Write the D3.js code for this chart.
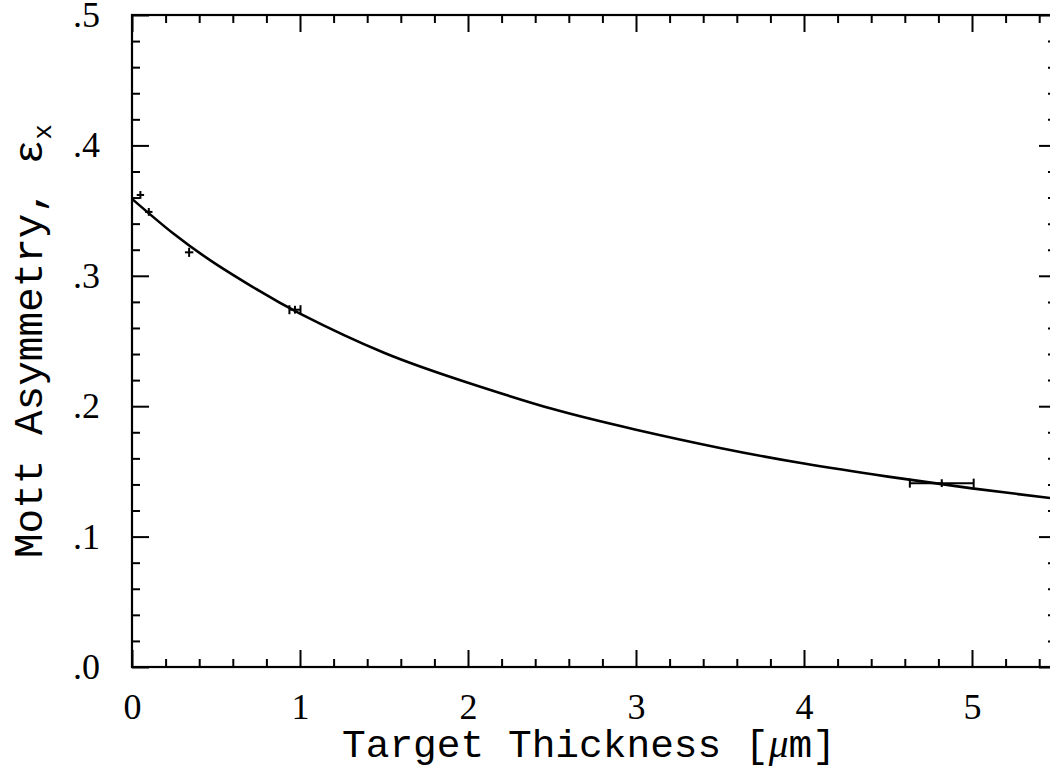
<!DOCTYPE html>
<html>
<head>
<meta charset="utf-8">
<script src="https://cdn.jsdelivr.net/npm/d3@7"></script>
<style>
  html, body { margin: 0; padding: 0; background: #fff; }
  svg { display: block; }
</style>
</head>
<body>
<svg id="chart" width="1050" height="771"></svg>
<script>
// ---- data ----
const xMajorTicks = [0, 1, 2, 3, 4, 5];
const xTickLabels = ["0", "1", "2", "3", "4", "5"];
const xMinorTicks = [0.2,0.4,0.6,0.8,1.2,1.4,1.6,1.8,2.2,2.4,2.6,2.8,3.2,3.4,3.6,3.8,4.2,4.4,4.6,4.8,5.2,5.4];
const yMajorTicks = [0, 0.1, 0.2, 0.3, 0.4, 0.5];
const yTickLabels = [".0", ".1", ".2", ".3", ".4", ".5"];
const yMinorTicks = [0.02,0.04,0.06,0.08,0.12,0.14,0.16,0.18,0.22,0.24,0.26,0.28,0.32,0.34,0.36,0.38,0.42,0.44,0.46,0.48];

// measured points
const pointX    = [0.05, 0.10, 0.34, 0.97, 4.82];
const pointY    = [0.362, 0.349, 0.318, 0.274, 0.141];
const pointXErr = [0.022, 0.022, 0.025, 0.033, 0.19];
const pointYErr = [0.003, 0.003, 0.0035, 0.003, 0.003];

// fitted curve
const fitX = [0, 0.25, 0.5, 0.75, 1.0, 1.5, 2.0, 2.5, 3.0, 3.5, 4.0, 4.5, 5.0, 5.5];
const fitY = [0.359, 0.332, 0.309, 0.289, 0.271, 0.241, 0.218, 0.198, 0.182, 0.168, 0.156, 0.146, 0.137, 0.129];

const xTitle = "Target Thickness [";
const yTitle = "Mott Asymmetry, ε";

// ---- layout ----
const L = 132, R = 1056, T = 15, B = 667;
const svg = d3.select("#chart");
const x = d3.scaleLinear().domain([0, 5.5]).range([L, R]);
const y = d3.scaleLinear().domain([0, 0.5]).range([B, T]);

const ink = "#000";
const MAJ = 17, MIN = 8;
const tickFont = "Liberation Serif, DejaVu Serif, serif";

function styleAxis(g) {
  g.select(".domain").remove();
  g.selectAll(".tick line").attr("stroke", ink).attr("stroke-width", 2);
}

// bottom
svg.append("g").attr("transform", `translate(0,${B})`)
  .call(d3.axisBottom(x).tickValues(xMajorTicks).tickSize(-MAJ).tickSizeOuter(0).tickPadding(26)
        .tickFormat((d, i) => xTickLabels[i]))
  .call(styleAxis)
  .call(g => g.selectAll("text").attr("font-family", tickFont)
        .attr("font-size", 36).attr("fill", ink));
svg.append("g").attr("transform", `translate(0,${B})`)
  .call(d3.axisBottom(x).tickValues(xMinorTicks).tickSize(-MIN).tickSizeOuter(0).tickFormat(""))
  .call(styleAxis);
// top
svg.append("g").attr("transform", `translate(0,${T})`)
  .call(d3.axisTop(x).tickValues(xMajorTicks).tickSize(-MAJ).tickSizeOuter(0).tickFormat(""))
  .call(styleAxis);
svg.append("g").attr("transform", `translate(0,${T})`)
  .call(d3.axisTop(x).tickValues(xMinorTicks).tickSize(-MIN).tickSizeOuter(0).tickFormat(""))
  .call(styleAxis);
// left
svg.append("g").attr("transform", `translate(${L},0)`)
  .call(d3.axisLeft(y).tickValues(yMajorTicks).tickSize(-MAJ).tickSizeOuter(0).tickPadding(32)
        .tickFormat((d, i) => yTickLabels[i]))
  .call(styleAxis)
  .call(g => g.selectAll("text").attr("font-family", tickFont)
        .attr("font-size", 36).attr("fill", ink));
svg.append("g").attr("transform", `translate(${L},0)`)
  .call(d3.axisLeft(y).tickValues(yMinorTicks).tickSize(-MIN).tickSizeOuter(0).tickFormat(""))
  .call(styleAxis);
// right
svg.append("g").attr("transform", `translate(${R},0)`)
  .call(d3.axisRight(y).tickValues(yMajorTicks).tickSize(-MAJ).tickSizeOuter(0).tickFormat(""))
  .call(styleAxis);
svg.append("g").attr("transform", `translate(${R},0)`)
  .call(d3.axisRight(y).tickValues(yMinorTicks).tickSize(-MIN).tickSizeOuter(0).tickFormat(""))
  .call(styleAxis);

// frame
svg.append("rect").attr("x", L).attr("y", T).attr("width", R - L).attr("height", B - T)
  .attr("fill", "none").attr("stroke", ink).attr("stroke-width", 2.2);

// fit curve
const fitData = fitX.map((v, i) => [v, fitY[i]]);
svg.append("path").datum(fitData)
  .attr("fill", "none").attr("stroke", ink).attr("stroke-width", 2.6)
  .attr("d", d3.line().x(d => x(d[0])).y(d => y(d[1])).curve(d3.curveNatural));

// data points with error bars
const pts = pointX.map((v, i) => ({ x: v, y: pointY[i], xe: pointXErr[i], ye: pointYErr[i] }));
const pg = svg.append("g").attr("stroke", ink).attr("stroke-width", 2).attr("fill", "none");
pts.forEach(p => {
  pg.append("line").attr("x1", x(p.x - p.xe)).attr("x2", x(p.x + p.xe))
    .attr("y1", y(p.y)).attr("y2", y(p.y));
  pg.append("line").attr("x1", x(p.x)).attr("x2", x(p.x))
    .attr("y1", y(p.y - p.ye)).attr("y2", y(p.y + p.ye));
  if ((x(p.x + p.xe) - x(p.x)) > 4.5) {
    const c = 4.5;
    [p.x - p.xe, p.x + p.xe].forEach(xx => {
      pg.append("line").attr("x1", x(xx)).attr("x2", x(xx))
        .attr("y1", y(p.y) - c).attr("y2", y(p.y) + c);
    });
  }
});

// axis titles
const titleFont = "Liberation Mono, DejaVu Sans Mono, monospace";
const xt = svg.append("text")
  .attr("x", 342).attr("y", 757)
  .attr("font-family", titleFont).attr("font-size", 39.5).attr("fill", ink);
xt.append("tspan").text(xTitle);
xt.append("tspan").attr("font-family", "Liberation Serif, DejaVu Serif, serif").attr("font-style", "italic").text("μ");
xt.append("tspan").text("m]");

const yt = svg.append("text")
  .attr("transform", "translate(42,558) rotate(-90)")
  .attr("font-family", titleFont).attr("font-size", 41).attr("fill", ink);
yt.append("tspan").text(yTitle);
yt.append("tspan").attr("font-size", 26).attr("dy", 9).text("x");
</script>
</body>
</html>
